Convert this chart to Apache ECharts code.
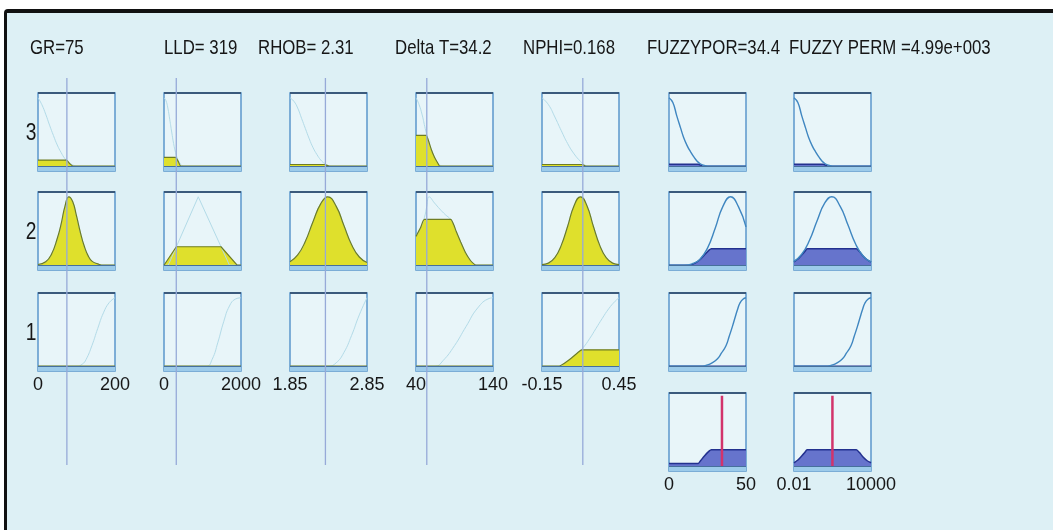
<!DOCTYPE html>
<html>
<head>
<meta charset="utf-8">
<script src="https://cdn.jsdelivr.net/npm/echarts@6/dist/echarts.min.js"></script>
<style>
  html, body { margin: 0; padding: 0; background: #ffffff; }
  #frame { position: absolute; left: 4px; top: 9px; width: 1049px; height: 521px;
           background: #ddf0f5; border-top: 4px solid #111; border-left: 3px solid #111;
           border-top-left-radius: 4px; box-sizing: border-box; }
  #chart { position: absolute; left: 0; top: 0; width: 1053px; height: 530px; }
</style>
</head>
<body>
<div id="frame"></div>
<div id="chart"></div>
<script>
// ---------------- data ----------------
const columnNames = ['GR', 'LLD', 'RHOB', 'Delta T', 'NPHI', 'FUZZYPOR', 'FUZZY PERM'];
const xMins = [0, 0, 1.85, 40, -0.15, 0, 0.01];
const xMaxs = [200, 2000, 2.85, 140, 0.45, 50, 10000];
const tickLabels = [['0', '200'], ['0', '2000'], ['1.85', '2.85'], ['40', '140'], ['-0.15', '0.45'], ['0', '50'], ['0.01', '10000']];
const titleTexts = ['GR=75', 'LLD= 319', 'RHOB= 2.31', 'Delta T=34.2', 'NPHI=0.168', 'FUZZYPOR=34.4', 'FUZZY PERM =4.99e+003'];
const ruleLabels = ['3', '2', '1'];
const inputLineValues = [75, 319, 2.31, 54, 0.168];
const outputValues = [34.4, 4990];

// GR
const grMf3 = [[0,1],[10,0.9],[20,0.76],[30,0.6],[40,0.45],[50,0.31],[60,0.2],[70,0.11],[80,0.05],[90,0.02],[100,0],[200,0]];
const grFill3 = [[0,0.09],[74,0.09],[82,0.04],[91,0],[200,0]];
const grMf2 = [[0,0.01],[20,0.05],[35,0.16],[50,0.39],[60,0.6],[70,0.86],[80,1],[90,0.93],[100,0.72],[110,0.48],[120,0.28],[130,0.14],[140,0.06],[155,0.02],[170,0],[200,0]];
const grFill2 = [[0,0.01],[20,0.05],[35,0.16],[50,0.39],[60,0.6],[70,0.86],[80,1],[90,0.93],[100,0.72],[110,0.48],[120,0.28],[130,0.14],[140,0.06],[155,0.02],[170,0],[200,0]];
const grMf1 = [[0,0],[100,0],[115,0.03],[125,0.1],[140,0.3],[155,0.55],[170,0.78],[185,0.93],[200,1]];
const grFill1 = [[0,0],[200,0]];
// LLD
const lldMf3 = [[0,1],[50,0.96],[100,0.85],[150,0.68],[200,0.5],[250,0.33],[300,0.2],[350,0.11],[400,0.05],[450,0.02],[500,0],[2000,0]];
const lldFill3 = [[0,0.13],[300,0.13],[370,0.07],[440,0],[2000,0]];
const lldMf2 = [[0,0],[110,0],[890,1],[1700,0],[2000,0]];
const lldFill2 = [[0,0],[40,0],[320,0.27],[1480,0.27],[1900,0],[2000,0]];
const lldMf1 = [[0,0],[1100,0],[1250,0.1],[1400,0.35],[1550,0.65],[1700,0.88],[1850,0.98],[2000,1]];
const lldFill1 = [[0,0],[2000,0]];
// RHOB
const rhobMf3 = [[1.85,1],[1.9,0.95],[1.95,0.85],[2.0,0.7],[2.05,0.55],[2.1,0.4],[2.15,0.27],[2.2,0.17],[2.25,0.09],[2.3,0.04],[2.35,0.01],[2.4,0],[2.85,0]];
const rhobFill3 = [[1.85,0.025],[2.3,0.025],[2.36,0],[2.85,0]];
const rhobMf2 = [[1.85,0.05],[1.95,0.15],[2.05,0.35],[2.15,0.64],[2.25,0.9],[2.34,1],[2.45,0.86],[2.55,0.58],[2.65,0.3],[2.75,0.12],[2.85,0.04]];
const rhobFill2 = [[1.85,0.05],[1.95,0.15],[2.05,0.35],[2.15,0.64],[2.25,0.9],[2.34,1],[2.45,0.86],[2.55,0.58],[2.65,0.3],[2.75,0.12],[2.85,0.04]];
const rhobMf1 = [[1.85,0],[2.35,0],[2.45,0.05],[2.55,0.2],[2.65,0.45],[2.75,0.75],[2.85,1]];
const rhobFill1 = [[1.85,0],[2.85,0]];
// Delta T
const dtMf3 = [[40,1],[44,0.9],[48,0.75],[52,0.55],[56,0.38],[60,0.24],[64,0.13],[68,0.05],[72,0.01],[76,0],[140,0]];
const dtFill3 = [[40,0.45],[53,0.45],[56,0.38],[60,0.24],[64,0.13],[68,0.05],[71,0],[140,0]];
const dtMf2 = [[40,0.42],[46,0.55],[51,0.7],[54,0.86],[57,1],[64,0.91],[71,0.82],[78,0.74],[85,0.67],[89,0.59],[92,0.5],[98,0.34],[104,0.19],[110,0.08],[114,0.03],[118,0],[140,0]];
const dtFill2 = [[40,0.42],[46,0.55],[51,0.67],[85,0.67],[89,0.59],[92,0.5],[98,0.34],[104,0.19],[110,0.08],[114,0.03],[118,0],[140,0]];
const dtMf1 = [[40,0],[65,0],[75,0.08],[90,0.3],[105,0.58],[120,0.85],[135,0.99],[140,1]];
const dtFill1 = [[40,0],[140,0]];
// NPHI
const nphiMf3 = [[-0.15,1],[-0.1,0.9],[-0.05,0.72],[0,0.52],[0.05,0.33],[0.1,0.18],[0.15,0.07],[0.18,0.02],[0.22,0],[0.45,0]];
const nphiFill3 = [[-0.15,0.025],[0.165,0.025],[0.19,0],[0.45,0]];
const nphiMf2 = [[-0.15,0.01],[-0.1,0.03],[-0.05,0.11],[0,0.29],[0.05,0.57],[0.1,0.87],[0.15,1],[0.2,0.87],[0.25,0.57],[0.3,0.29],[0.35,0.11],[0.4,0.03],[0.45,0.01]];
const nphiFill2 = [[-0.15,0.01],[-0.1,0.03],[-0.05,0.11],[0,0.29],[0.05,0.57],[0.1,0.87],[0.15,1],[0.2,0.87],[0.25,0.57],[0.3,0.29],[0.35,0.11],[0.4,0.03],[0.45,0.01]];
const nphiMf1 = [[-0.15,0],[-0.02,0],[0.03,0.05],[0.08,0.12],[0.13,0.2],[0.17,0.27],[0.22,0.4],[0.27,0.55],[0.32,0.7],[0.37,0.84],[0.42,0.95],[0.45,1]];
const nphiFill1 = [[-0.15,0],[-0.02,0],[0.03,0.05],[0.08,0.12],[0.13,0.2],[0.16,0.24],[0.45,0.24]];
// FUZZYPOR (output)
const porMf3 = [[0,1],[2.5,0.93],[5,0.74],[7.5,0.56],[9.5,0.42],[12,0.29],[14,0.21],[16,0.14],[18,0.08],[20,0.04],[22.5,0.015],[25,0],[50,0]];
const porFill3 = [[0,0.03],[19,0.03],[22,0],[50,0]];
const porMf2 = [[0,0],[10,0],[15,0.02],[20,0.085],[25,0.25],[30,0.54],[35,0.86],[40,1],[45,0.86],[50,0.56]];
const porFill2 = [[0,0],[13,0],[17,0.03],[20,0.08],[23,0.15],[26,0.22],[27.5,0.24],[50,0.24]];
const porMf1 = [[0,0],[22,0],[24,0.01],[28,0.05],[31.5,0.11],[34,0.19],[37,0.3],[39,0.43],[41.3,0.59],[43,0.72],[44.5,0.83],[46,0.92],[48,0.98],[50,1]];
const porFill1 = [[0,0],[50,0]];
const porAgg = [[0,0.04],[19,0.04],[20.5,0.08],[23,0.15],[26,0.22],[27.5,0.24],[50,0.24]];
// FUZZY PERM (output)
const permMf3 = [[0.01,1],[500,0.93],[1000,0.74],[1500,0.56],[1900,0.42],[2400,0.29],[2800,0.21],[3200,0.14],[3600,0.08],[4000,0.04],[4500,0.015],[5000,0],[10000,0]];
const permFill3 = [[0.01,0.03],[3800,0.03],[4400,0],[10000,0]];
const permMf2 = [[0.01,0.056],[1000,0.16],[2000,0.36],[3000,0.65],[4000,0.91],[4900,1],[6000,0.86],[7000,0.59],[8000,0.31],[9000,0.13],[10000,0.044]];
const permFill2 = [[0.01,0.05],[500,0.09],[1000,0.15],[1400,0.2],[1700,0.24],[8100,0.24],[8500,0.2],[9000,0.13],[9500,0.08],[10000,0.044]];
const permMf1 = [[0.01,0],[4400,0],[4800,0.01],[5600,0.05],[6300,0.11],[6800,0.19],[7400,0.3],[7800,0.43],[8260,0.59],[8600,0.72],[8900,0.83],[9200,0.92],[9600,0.98],[10000,1]];
const permFill1 = [[0.01,0],[10000,0]];
const permAgg = [[0.01,0.05],[500,0.09],[1000,0.15],[1400,0.2],[1700,0.24],[8100,0.24],[8500,0.2],[9000,0.13],[9500,0.08],[10000,0.05]];

// ---------------- layout / style ----------------
const FONT = "'Liberation Sans', Arial, sans-serif";
const NARROW = 0.8;   // Arial-Narrow-like horizontal compression for titles
const colLeft = [38, 164, 290, 416, 542, 669, 794];
const colW = 77;
const rowTop = [93, 192, 293, 393];
const rowH = 78;
const Y_MIN = -0.07, Y_MAX = 1.07;

const mfs = [
  [grMf3, grMf2, grMf1], [lldMf3, lldMf2, lldMf1], [rhobMf3, rhobMf2, rhobMf1],
  [dtMf3, dtMf2, dtMf1], [nphiMf3, nphiMf2, nphiMf1], [porMf3, porMf2, porMf1], [permMf3, permMf2, permMf1]
];
const fills = [
  [grFill3, grFill2, grFill1], [lldFill3, lldFill2, lldFill1], [rhobFill3, rhobFill2, rhobFill1],
  [dtFill3, dtFill2, dtFill1], [nphiFill3, nphiFill2, nphiFill1], [porFill3, porFill2, porFill1], [permFill3, permFill2, permFill1]
];
const aggs = { 5: porAgg, 6: permAgg };
const sharp = { '1-1': true };

const grids = [], xAxes = [], yAxes = [], series = [], graphics = [];

function addPanel(c, r) {
  const gi = grids.length;
  const isOut = c >= 5;
  grids.push({ left: colLeft[c], top: rowTop[r], width: colW, height: rowH, show: true,
               backgroundColor: '#e8f5f9', borderColor: '#5b97cb', borderWidth: 1.5 });
  const showLabels = (!isOut && r === 2) || (isOut && r === 3);
  xAxes.push({ gridIndex: gi, type: 'value', min: xMins[c], max: xMaxs[c],
    axisLine: { show: false }, axisTick: { show: false }, splitLine: { show: false },
    axisLabel: { show: showLabels, customValues: [xMins[c], xMaxs[c]], margin: 5, hideOverlap: false,
      fontFamily: FONT, fontSize: 18, color: '#161616',
      formatter: v => (v === xMins[c] ? tickLabels[c][0] : tickLabels[c][1]) } });
  yAxes.push({ gridIndex: gi, type: 'value', min: Y_MIN, max: Y_MAX, show: false });
  series.push({ type: 'line', xAxisIndex: gi, yAxisIndex: gi, data: [], silent: true,
    markArea: { silent: true, itemStyle: { color: '#9ccbea' }, data: [[{ yAxis: Y_MIN }, { yAxis: 0 }]] },
    markLine: { silent: true, symbol: 'none', label: { show: false },
      data: [ { yAxis: 0, lineStyle: { color: '#46709c', width: 1.2, type: 'solid' } },
              { yAxis: Y_MAX, lineStyle: { color: '#3b5a7c', width: 2, type: 'solid' } } ] } });
  if (r === 3) {
    series.push({ type: 'line', xAxisIndex: gi, yAxisIndex: gi, data: aggs[c], symbol: 'none', silent: true,
      smooth: 0.2, lineStyle: { color: '#23318f', width: 1.5 }, areaStyle: { color: '#6674cc', origin: 0, opacity: 1 } });
    const v = outputValues[c - 5];
    series.push({ type: 'line', xAxisIndex: gi, yAxisIndex: gi, data: [[v, 0], [v, 1.03]], symbol: 'none', silent: true,
      lineStyle: { color: '#d2336b', width: 2.5 } });
    return;
  }
  const key = c + '-' + r;
  const mfSeries = { type: 'line', xAxisIndex: gi, yAxisIndex: gi, data: mfs[c][r], symbol: 'none', silent: true,
    smooth: sharp[key] ? false : 0.5,
    lineStyle: isOut ? { color: '#3f86c0', width: 1.4 } : { color: '#b3dbe8', width: 1 } };
  const fillSeries = { type: 'line', xAxisIndex: gi, yAxisIndex: gi, data: fills[c][r], symbol: 'none', silent: true,
    smooth: sharp[key] ? false : (r === 1 && (c === 0 || c === 2 || c === 4) ? 0.5 : 0.2),
    lineStyle: isOut ? { color: '#23318f', width: 1.5 } : { color: '#6f7d22', width: 1.2 },
    areaStyle: { color: isOut ? '#6674cc' : '#dfe02c', origin: 0, opacity: 1 } };
  if (isOut) { series.push(fillSeries, mfSeries); } else { series.push(mfSeries, fillSeries); }
}

for (let c = 0; c < 7; c++) {
  for (let r = 0; r < 3; r++) addPanel(c, r);
  if (c >= 5) addPanel(c, 3);
}

// tall grids carrying the input value lines
for (let c = 0; c < 5; c++) {
  const gi = grids.length;
  grids.push({ left: colLeft[c], top: 78, width: colW, height: 387, show: false });
  xAxes.push({ gridIndex: gi, type: 'value', min: xMins[c], max: xMaxs[c], show: false });
  yAxes.push({ gridIndex: gi, type: 'value', min: 0, max: 1, show: false });
  const v = inputLineValues[c];
  series.push({ type: 'line', xAxisIndex: gi, yAxisIndex: gi, data: [[v, 0], [v, 1]], symbol: 'none', silent: true, z: 5,
    lineStyle: { color: '#96aad8', width: 1.3 } });
}

// titles and rule numbers (narrow text)
const titleLeft = [30, 164, 258, 395, 523, 647, 789];
titleTexts.forEach((t, i) => graphics.push({ type: 'text', x: titleLeft[i], y: 48, scaleX: NARROW, silent: true,
  style: { text: t, x: 0, y: 0, font: "21px 'Liberation Sans', Arial, sans-serif", fill: '#161616',
           textAlign: 'left', textVerticalAlign: 'middle' } }));
ruleLabels.forEach((t, r) => graphics.push({ type: 'text', x: 31, y: rowTop[r] + rowH / 2 + 1, scaleX: NARROW, silent: true,
  style: { text: t, x: 0, y: 0, font: "24px 'Liberation Sans', Arial, sans-serif", fill: '#161616',
           textAlign: 'center', textVerticalAlign: 'middle' } }));

const chart = echarts.init(document.getElementById('chart'), null, { renderer: 'canvas' });
chart.setOption({ animation: false, backgroundColor: 'transparent',
  grid: grids, xAxis: xAxes, yAxis: yAxes, series: series, graphic: graphics });
</script>
</body>
</html>
